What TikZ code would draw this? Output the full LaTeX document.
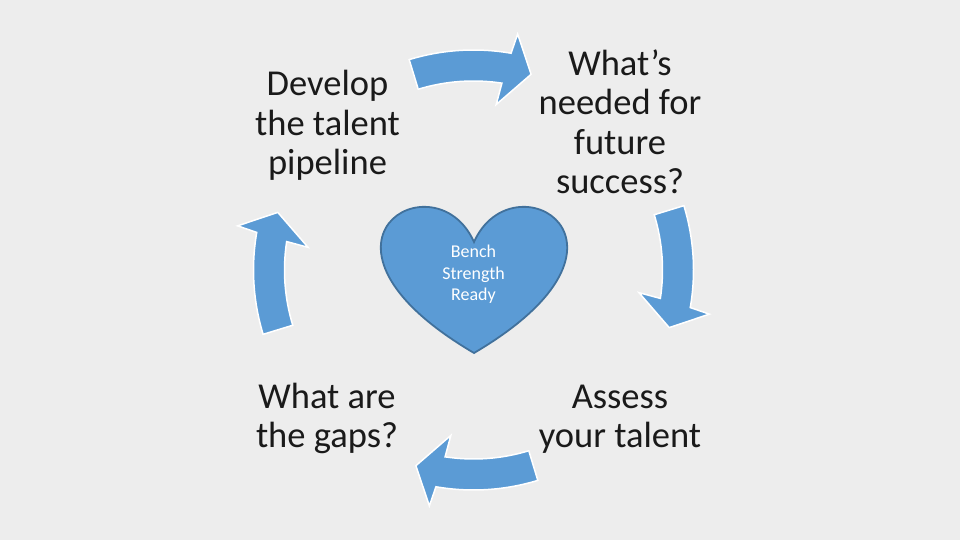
\documentclass[tikz,border=0pt]{standalone}
\usepackage{fontspec}
\setmainfont{Carlito}
\definecolor{bg}{HTML}{EDEDED}
\definecolor{accent}{HTML}{5B9BD5}
\definecolor{accentdark}{HTML}{41719C}
\definecolor{ink}{HTML}{1A1A1A}
\begin{document}
\begin{tikzpicture}[x=1pt,y=1pt,
  cyctext/.style={font=\fontsize{36.5}{39.5}\selectfont, text=ink, align=center, inner sep=0pt, anchor=base},
  hearttext/.style={font=\fontsize{18}{21.5}\selectfont, text=white, align=center, inner sep=0pt, anchor=base},
  cycarrow/.style={fill=accent, draw=white, line width=1.5pt, line join=miter},
  heartshape/.style={fill=accent, draw=accentdark, line width=1.8pt}]
\fill[bg] (0,0) rectangle (960,540);
\useasboundingbox (0,0) rectangle (960,540);
\begin{scope}[shift={(473.5,270)}]
\foreach \A in {107,17,-73,-163} {
  \draw[cycarrow] (\A:220) arc[start angle=\A, end angle=\A-26.83, radius=220]
    -- ({\A-27.6}:240) -- ({\A-33.4}:204) -- ({\A-24.8}:167)
    -- ({\A-25.65}:189) arc[start angle=\A-25.65, end angle=\A, radius=189] -- cycle;
}
\end{scope}
\draw[heartshape] (474,298) .. controls (512.5,384.3) and (662.9,298) .. (474,187)
  .. controls (285.1,298) and (435.5,384.3) .. (474,298) -- cycle;
\node[hearttext] (bench) at (473.5,239) {Bench\\Strength\\Ready};
\node[cyctext] (develop) at (327.5,365) {Develop\\the talent\\pipeline};
\node[cyctext] (needed) at (620,346) {What’s\\needed for\\future\\success?};
\node[cyctext] (gaps) at (327,92) {What are\\the gaps?};
\node[cyctext] (assess) at (620,92) {Assess\\your talent};
\end{tikzpicture}
\end{document}
